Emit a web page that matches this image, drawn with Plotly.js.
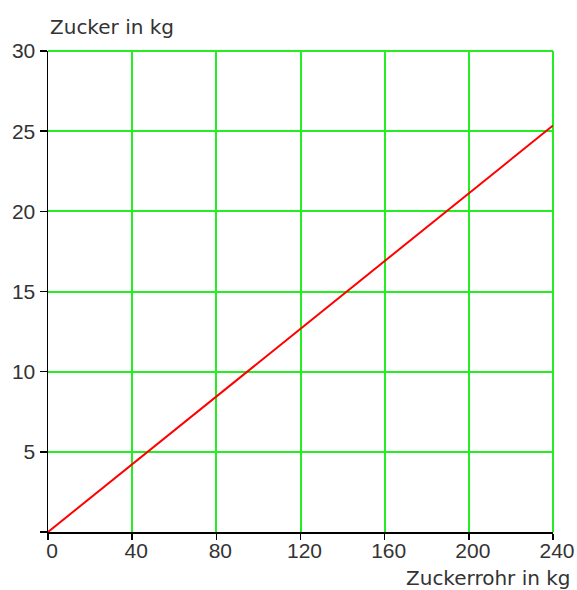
<!DOCTYPE html>
<html>
<head>
<meta charset="utf-8">
<script src="https://cdn.plot.ly/plotly-3.0.1.min.js"></script>
<style>html,body{margin:0;padding:0;background:#fff;}#chart{width:577px;height:590px;}</style>
</head>
<body>
<div id="chart"></div>
<script>
// Data
const zuckerrohrKg = [0, 240];
const zuckerKg = [0, 25.35];
const xTickVals = [0, 40, 80, 120, 160, 200, 240];
const yTickVals = [0, 5, 10, 15, 20, 25, 30];
const yTickText = ['', '5', '10', '15', '20', '25', '30'];
const xTitle = 'Zuckerrohr in kg';
const yTitle = 'Zucker in kg';

const gridColor = '#22ee22';
const textColor = '#333333';
const tickFont = {family: 'Liberation Sans, Arial, sans-serif', size: 21, color: textColor};
const titleFont = {family: 'DejaVu Sans, sans-serif', size: 20, color: textColor};

const trace = {
  x: zuckerrohrKg,
  y: zuckerKg,
  type: 'scatter',
  mode: 'lines',
  line: {color: '#ff0000', width: 2},
  hoverinfo: 'skip'
};

const layout = {
  width: 577,
  height: 590,
  margin: {l: 48, r: 24, t: 51, b: 58},
  paper_bgcolor: '#ffffff',
  plot_bgcolor: '#ffffff',
  showlegend: false,
  xaxis: {
    range: [0, 240],
    tickvals: xTickVals,
    ticktext: xTickVals.map(String),
    showgrid: true,
    gridcolor: gridColor,
    gridwidth: 2,
    zeroline: false,
    showline: true,
    linecolor: '#000000',
    linewidth: 1.5,
    ticks: 'outside',
    ticklen: 6,
    tickwidth: 1.5,
    tickcolor: '#000000',
    tickfont: tickFont,
    ticklabelstandoff: -7,
    ticklabelshift: 4,
    fixedrange: true
  },
  yaxis: {
    range: [0, 30],
    tickvals: yTickVals,
    ticktext: yTickText,
    showgrid: true,
    gridcolor: gridColor,
    gridwidth: 2,
    zeroline: false,
    showline: true,
    linecolor: '#000000',
    linewidth: 1.5,
    ticks: 'outside',
    ticklen: 7,
    tickwidth: 1.5,
    tickcolor: '#000000',
    tickfont: tickFont,
    fixedrange: true
  },
  shapes: [
    {type: 'line', xref: 'paper', yref: 'paper', x0: 0, x1: 1, y0: 1, y1: 1, line: {color: gridColor, width: 2}, layer: 'below'},
    {type: 'line', xref: 'paper', yref: 'paper', x0: 1, x1: 1, y0: 0, y1: 1, line: {color: gridColor, width: 2}, layer: 'below'}
  ],
  annotations: [
    {text: yTitle, xref: 'paper', yref: 'paper', x: 0, y: 1.05, xanchor: 'left', yanchor: 'middle', showarrow: false, font: titleFont},
    {text: xTitle, xref: 'paper', yref: 'paper', x: 1.0396, y: -0.0956, xanchor: 'right', yanchor: 'middle', showarrow: false, font: titleFont}
  ]
};

Plotly.newPlot('chart', [trace], layout, {displayModeBar: false, staticPlot: true});
</script>
</body>
</html>
